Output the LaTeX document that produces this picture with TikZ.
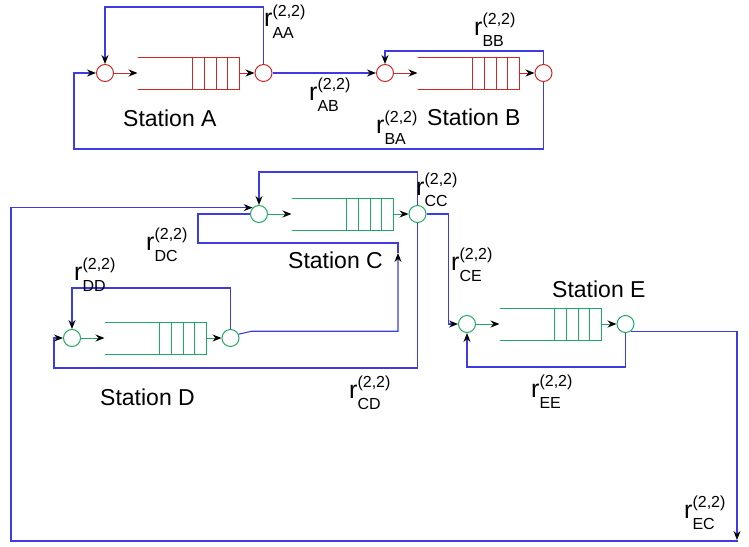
\documentclass[tikz,border=0pt]{standalone}
\usepackage{fontspec}
\setmainfont{Liberation Sans}
\usepackage{tikz}
\usetikzlibrary{arrows.meta, positioning}

\definecolor{qred}{RGB}{204,40,40}
\definecolor{qgreen}{RGB}{30,170,100}
\definecolor{linkblue}{RGB}{60,60,225}

\newcommand{\rprob}[1]{r\rlap{\raisebox{0.42em}{\fontsize{16}{16}\selectfont(2,2)}}\raisebox{-0.45em}{\fontsize{16}{16}\selectfont #1}}

\begin{document}
\begin{tikzpicture}[
    x=1pt, y=-1pt,
    stn/.style={circle, draw, minimum size=17pt, inner sep=0pt, line width=1pt},
    link/.style={draw=linkblue, line width=1.1pt},
    arr/.style={-{Stealth[length=9pt, width=7pt, inset=3pt, color=black]}},
    lbl/.style={anchor=base west, inner sep=0pt, font=\fontsize{25}{25}\selectfont},
    title/.style={anchor=base west, inner sep=0pt, font=\fontsize{23}{23}\selectfont},
    buffer/.pic={
      \draw (-51,-16) -- (51,-16) (-51,16) -- (51,16);
      \foreach \bx in {4,16,28,39,51} \draw (\bx,-16) -- (\bx,16);
      \coordinate (-in) at (-51,0);
      \coordinate (-out) at (51,0);
    }
  ]
  \useasboundingbox (0,0) rectangle (749,546);

  % stations: input, buffer, output
  \foreach \sn/\x/\y/\c in {A/105/73/qred, B/385/73/qred, C/259/214/qgreen,
      D/72/338/qgreen, E/467/324/qgreen} {
    \node[stn, draw=\c] (\sn in) at (\x,\y) {};
    \pic[\c, line width=1pt] (\sn q) at (\x+83.5,\y) {buffer};
    \node[stn, draw=\c] (\sn out) at (\x+158.5,\y) {};
    \draw[\c, line width=1pt, arr] (\sn in) -- (\sn q-in);
    \draw[\c, line width=1pt, arr] (\sn q-out) -- (\sn out);
  }

  % routing
  \draw[link, arr] (Aout.north) -- ++(0,-57) -| (Ain.north);
  \draw[link, arr] (Aout) -- (Bin);
  \draw[link, arr] (Bout.north) -- ++(0,-13) -| (Bin.north);
  \draw[link, arr] (Bout.south) -- ++(0,67) -| ([xshift=-22pt]Ain.west) -- (Ain.west);
  \draw[link, arr] (Cout.north) -- ++(0,-33) -| (Cin.north);
  \draw[link, arr] (Cout.east) -- ++(22,0) |- (Ein.west);
  \draw[link, arr] (Cout.south) -- ++(0,145) -| ([xshift=-9pt]Din.west) -- (Din.west);
  \draw[link, arr] (Dout.north) -- ++(0,-41) -| (Din.north);
  \draw[link, arr] (Eout.south) -- ++(0,34) -| (Ein.south);
  \coordinate (DCmid) at (398,253);
  \draw[link, arr] (Dout.25) -- ++(13,-3) -| (DCmid);
  \draw[link] (DCmid) -- ++(0,-10) -| ([xshift=-52pt]Cin.west) -- (Cin.west);
  \coordinate (ECdown) at (737,540);
  \draw[link, arr] (Eout.-55) -| (ECdown);
  \draw[link, arr] (ECdown) -- ++(0,1) -- ++(-726,0) |- (Cin.135);

  % probabilities
  \node[lbl] (rAA) at (264,27) {\rprob{AA}};
  \node[lbl] (rAB) at (309,100) {\rprob{AB}};
  \node[lbl] (rBB) at (474,35) {\rprob{BB}};
  \node[lbl] (rBA) at (376,133) {\rprob{BA}};
  \node[lbl] (rCC) at (416,195) {\rprob{CC}};
  \node[lbl] (rCE) at (451,270) {\rprob{CE}};
  \node[lbl] (rDC) at (146,250) {\rprob{DC}};
  \node[lbl] (rDD) at (74,280) {\rprob{DD}};
  \node[lbl] (rCD) at (349,398) {\rprob{CD}};
  \node[lbl] (rEE) at (531,397) {\rprob{EE}};
  \node[lbl] (rEC) at (684,518) {\rprob{EC}};

  % station names
  \node[title] (tA) at (123,126) {Station A};
  \node[title] (tB) at (427,125) {Station B};
  \node[title] (tC) at (288,268) {Station C};
  \node[title] (tD) at (100,405) {Station D};
  \node[title] (tE) at (552,297) {Station E};
\end{tikzpicture}
\end{document}
